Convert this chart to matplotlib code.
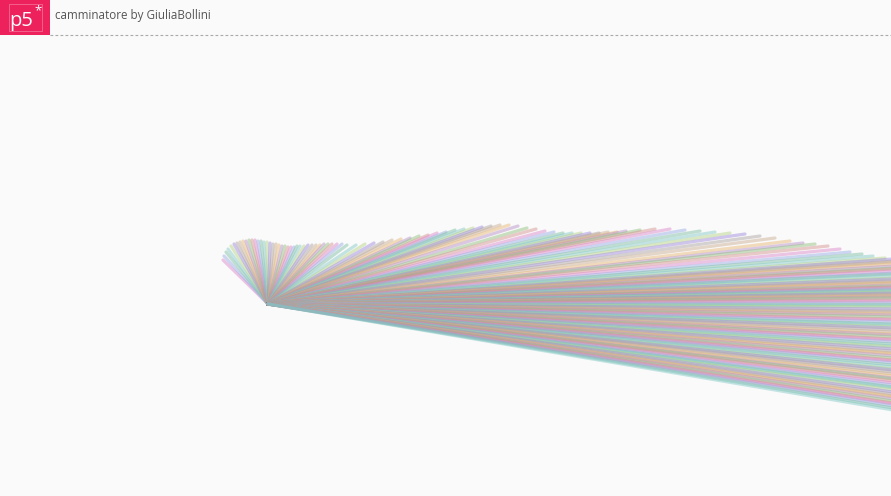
import matplotlib
matplotlib.use('Agg')
import matplotlib.pyplot as plt
from matplotlib.collections import LineCollection
from matplotlib.patches import Rectangle

W, H = 891, 496

# ---- data (pixel coordinates) ----
title = "camminatore by GiuliaBollini"
origin_x, origin_y = 268, 304

# visible line tips along the top of the fan
tip_x = [223, 224, 226, 228, 231, 234, 237, 240, 243, 246, 249, 252, 255, 258, 261,
         264, 267, 270, 273, 276, 279, 282, 285, 288, 291, 294, 297, 300, 304, 308,
         312, 316, 320, 324, 328, 332, 337, 342, 347,
         356, 365, 374, 383, 392, 401, 410, 419, 428, 437, 446, 455, 464, 473, 482,
         491, 500, 509, 518, 527, 536, 545, 554, 563, 572, 581, 590, 599, 608, 617, 626,
         640, 655, 670, 685, 700, 715, 730, 745, 760, 775, 790, 803, 815, 828, 840,
         850, 862, 873, 885]
tip_y = [260, 256, 252, 249, 246, 244, 243, 242, 241, 241, 240, 240, 240, 241, 241,
         242, 242, 243, 244, 244, 245, 246, 246, 247, 247, 247, 246, 246, 246, 245,
         245, 245, 245, 244, 244, 244, 244, 244, 245,
         245, 244, 243, 242, 240, 239, 238, 236, 235, 233, 232, 230, 229, 228, 227,
         226, 225, 225, 226, 228, 229, 231, 232, 233, 233, 233, 233, 233, 232, 232, 231,
         230, 229, 229, 230, 231, 232, 233, 234, 236, 238, 241, 243, 244, 246, 249,
         252, 254, 256, 258]

# lines that leave the picture: height where they cross the right edge
edge_x = 893
edge_y = [259, 261, 262, 264, 266, 268, 269, 271, 273, 274, 276, 278, 279, 281, 282,
          283, 285, 286, 287, 288, 289, 290, 291, 292, 293, 294, 295, 296, 297, 298,
          300, 301, 303, 304, 306, 307, 309, 311, 312, 314, 315, 317, 319, 320, 322,
          324, 325, 327, 328, 330, 332, 334, 335, 337, 339, 340, 342, 344, 346, 347,
          349, 351, 353, 354, 356, 358, 360, 361, 363, 365, 367, 369, 370, 372, 374,
          376, 378, 379, 381, 383, 385, 387, 388, 390, 392, 394, 396, 397, 399, 401,
          403, 404, 406, 408, 410]

palette = ['#dc84c8', '#9a84dc', '#8cbe78', '#82c8c8', '#e6b46e', '#96aae6',
           '#aaa0a0', '#d68c8c', '#b4d282', '#b48cc8', '#78bea0', '#c8aa8c']

# ---- figure ----
fig = plt.figure(figsize=(W / 100, H / 100), dpi=100)
fig.patch.set_facecolor('#fafafa')
ax = fig.add_axes([0, 0, 1, 1])
ax.set_facecolor('#fafafa')
ax.set_xlim(0, W)
ax.set_ylim(H, 0)
ax.axis('off')

segs = [[(origin_x, origin_y), (x, y)] for x, y in zip(tip_x, tip_y)]
segs += [[(origin_x, origin_y), (edge_x, y)] for y in edge_y]
cols = [palette[(i * 5) % len(palette)] for i in range(len(segs))]
lc = LineCollection(segs, colors=cols, linewidths=2.3, alpha=0.45,
                    capstyle='round')
ax.add_collection(lc)

# ---- header ----
ax.add_patch(Rectangle((0, 0), 50, 35, facecolor='#ed225d', edgecolor='none', zorder=5))
ax.add_patch(Rectangle((9, 4), 33, 27, facecolor='none', edgecolor='#f36a92',
                       linewidth=0.6, zorder=6))
ax.text(9.5, 26, 'p5', color='white', fontsize=14.5, family='Open Sans',
        va='baseline', ha='left', zorder=7)
ax.text(34.5, 14, '*', color='white', fontsize=9.5, family='Open Sans',
        va='baseline', ha='left', zorder=7)
ax.text(55, 16, title, color='#555555', fontsize=8.4, family='Open Sans',
        va='center', ha='left', zorder=7)
ax.plot([50, W], [35, 35], color='#aaaaaa', linewidth=0.8,
        dashes=(2.5, 2), zorder=4)

fig.savefig('out.png', dpi=100, facecolor=fig.get_facecolor())
